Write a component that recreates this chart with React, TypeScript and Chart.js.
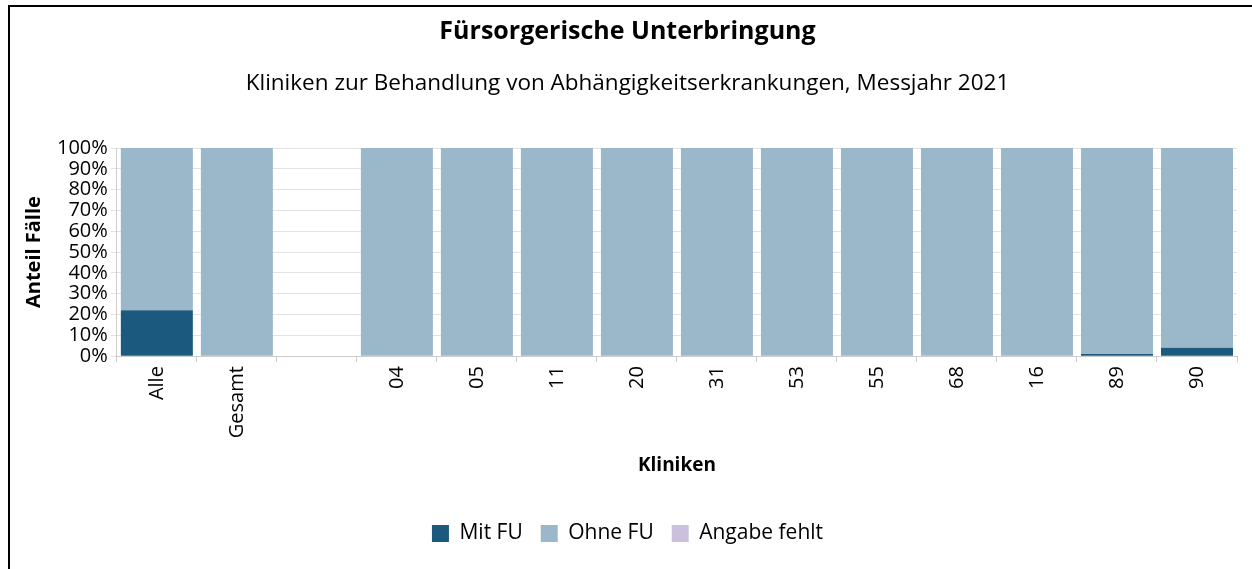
import React, { useEffect, useRef } from "react";
import { Chart, registerables } from "chart.js";

Chart.register(...registerables);

const categories = ["Alle", "Gesamt", "", "04", "05", "11", "20", "31", "53", "55", "68", "16", "89", "90"];
const mitFU = [22, 0, 0, 0, 0, 0, 0, 0, 0, 0, 0, 0, 1, 4];
const ohneFU = [78, 100, 0, 100, 100, 100, 100, 100, 100, 100, 100, 100, 99, 96];
const angabeFehlt = [0, 0, 0, 0, 0, 0, 0, 0, 0, 0, 0, 0, 0, 0];
const yTicks = [0, 10, 20, 30, 40, 50, 60, 70, 80, 90, 100];

const FONT = "'Open Sans', 'Noto Sans', sans-serif";

export default function App() {
  const ref = useRef<HTMLCanvasElement | null>(null);
  useEffect(() => {
    if (!ref.current) return;
    const chart = new Chart(ref.current, {
      type: "bar",
      data: {
        labels: categories,
        datasets: [
          { label: "Mit FU", data: mitFU, backgroundColor: "#1b5a7e", barPercentage: 0.9, categoryPercentage: 1 },
          { label: "Ohne FU", data: ohneFU, backgroundColor: "#9ab8ca", barPercentage: 0.9, categoryPercentage: 1 },
          { label: "Angabe fehlt", data: angabeFehlt, backgroundColor: "#cbc0de", barPercentage: 0.9, categoryPercentage: 1 },
        ],
      },
      options: {
        animation: false,
        responsive: false,
        maintainAspectRatio: false,
        layout: { padding: { left: 18, right: 15, top: 11, bottom: 15 } },
        plugins: {
          title: {
            display: true,
            text: "Fürsorgerische Unterbringung",
            color: "#000",
            font: { family: FONT, size: 25, weight: "bold" },
            padding: { top: 6, bottom: 23 },
          },
          subtitle: {
            display: true,
            text: "Kliniken zur Behandlung von Abhängigkeitserkrankungen, Messjahr 2021",
            color: "#000",
            font: { family: FONT, size: 22.5 },
            padding: { top: 0, bottom: 51 },
          },
          legend: {
            position: "bottom",
            labels: {
              color: "#000",
              font: { family: FONT, size: 21 },
              boxWidth: 17,
              boxHeight: 17,
              padding: 18,
            },
          },
          tooltip: { enabled: false },
        },
        scales: {
          x: {
            stacked: true,
            grid: { display: true, offset: true, drawOnChartArea: false, tickLength: 6, color: "#ccc" },
            border: { color: "#ccc" },
            ticks: {
              color: "#000",
              font: { family: FONT, size: 20 },
              minRotation: 90,
              maxRotation: 90,
              autoSkip: false,
              padding: 4,
            },
            title: {
              display: true,
              text: "Kliniken",
              color: "#000",
              font: { family: FONT, size: 19, weight: "bold" },
              padding: { top: 12, bottom: 28 },
            },
          },
          y: {
            stacked: true,
            min: 0,
            max: 100,
            afterBuildTicks: (axis: any) => {
              axis.ticks = yTicks.map((v) => ({ value: v }));
            },
            grid: { color: "#e3e3e3", tickLength: 6 },
            border: { color: "#ccc" },
            ticks: {
              color: "#000",
              font: { family: FONT, size: 20 },
              padding: 3,
              autoSkip: false,
              callback: (v: any) => v + "%",
            },
            title: {
              display: true,
              text: "Anteil Fälle",
              color: "#000",
              font: { family: FONT, size: 20, weight: "bold" },
              padding: { top: 4, bottom: 8 },
            },
          },
        },
      },
    });
    return () => chart.destroy();
  }, []);
  return (
    <div style={{ position: "absolute", left: 0, top: 0, width: 1252, height: 569 }}>
      <canvas ref={ref} width={1252} height={569} style={{ position: "absolute", left: 0, top: 0 }} />
      <div
        style={{
          position: "absolute",
          left: 8,
          top: 5,
          width: 1244,
          height: 564,
          borderTop: "2px solid #000",
          borderLeft: "2px solid #000",
          boxSizing: "border-box",
          pointerEvents: "none",
        }}
      />
    </div>
  );
}
